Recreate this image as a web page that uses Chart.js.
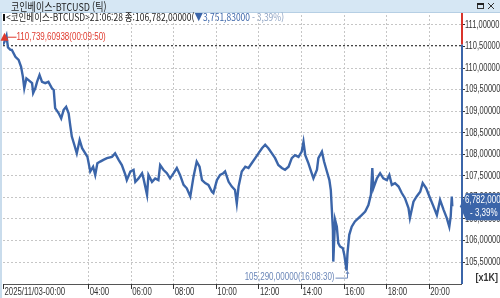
<!DOCTYPE html>
<html lang="ko">
<head>
<meta charset="UTF-8">
<title>코인베이스-BTCUSD (틱)</title>
<style>
  html, body { margin: 0; padding: 0; background: #fff; overflow: hidden; }
  #chart { display: block; }
</style>
</head>
<body>
<canvas id="chart" width="500" height="298"></canvas>
<script src="https://cdn.jsdelivr.net/npm/chart.js"></script>
<script>
// tick prices, time in minutes after 2025/11/03 00:00
var minutes = [
  0, 4, 9.83, 14, 21, 25, 35, 44, 51, 56, 60, 66, 72, 82, 85, 91, 96, 103, 110, 119,
  128, 138, 143, 147, 157, 164, 171, 178, 185, 190, 194, 201, 208, 216, 223, 232, 238, 246, 254, 260,
  266, 274, 283, 293, 307, 316, 326, 335, 345, 349, 359, 368, 373, 382, 392, 396, 406, 410, 420, 429,
  438, 443, 452, 462, 471, 481, 490, 499, 509, 518, 528, 537, 546, 554, 561, 570, 579, 589, 593, 603,
  612, 621, 626, 636, 645, 654, 659, 664, 673, 683, 692, 701, 711, 720, 730, 739, 748, 758, 767, 776,
  786, 795, 805, 814, 823, 833, 842, 847, 852, 861, 870, 875, 885, 889, 899, 905, 913, 920, 924, 927,
  930, 931, 936, 941, 945, 950, 958, 962, 968.5, 971, 976, 983, 992, 1002, 1011, 1021, 1030, 1037, 1041, 1044,
  1054, 1063, 1072, 1082, 1089, 1096, 1105, 1115, 1124, 1133, 1143, 1147, 1157, 1166, 1176, 1183, 1193, 1202, 1212, 1223,
  1232, 1242, 1251, 1258, 1262, 1265, 1266.47
];
var prices = [
  110530, 110600, 110739.6, 110470, 110410, 110410, 110250, 110180, 110020, 109790, 109520, 109750, 109710, 109640, 109410, 109520, 109670, 109830, 109670, 109640,
  109670, 109520, 109480, 109060, 108940, 108820, 109020, 109090, 108940, 108630, 108400, 108210, 108010, 108320, 108130, 108010, 107930, 107590, 107700, 107510,
  107780, 107820, 107860, 107900, 107930, 108010, 107860, 107740, 107510, 107390, 107590, 107630, 107350, 107430, 107550, 107430, 107050, 107510, 107350, 107430,
  107390, 107740, 107630, 107550, 107430, 107550, 107670, 107510, 107280, 107200, 107010, 107470, 107820, 107700, 107390, 107320, 107280, 107120, 107090, 107390,
  107510, 107550, 107590, 107350, 107240, 107160, 106850, 107240, 107590, 107700, 107670, 107780, 107900, 108010, 108130, 108210, 108130, 108010, 107900, 107740,
  107670, 107630, 107700, 107900, 107970, 107930, 108050, 108280, 107970, 107780, 107550, 107430, 107630, 107900, 108050, 107820, 107590, 107390, 107160, 106700,
  106230, 105500, 106470, 106310, 105930, 105850, 105810, 105660, 105290, 105690, 106120, 106310, 106430, 106510, 106580, 106660, 106810, 107050, 107670, 107200,
  107430, 107550, 107430, 107390, 107510, 107280, 107320, 107240, 107090, 106970, 106740, 106510, 106890, 107010, 107120, 107320, 107200, 107010, 106810, 106580,
  106930, 106700, 106510, 106310, 106550, 107010, 106782
];
var xTickMinutes = [0, 240, 360, 480, 600, 720, 840, 960, 1080, 1200];
var xTickLabels = ['2025/11/03-00:00', '04:00', '06:00', '08:00', '10:00', '12:00', '14:00', '16:00', '18:00', '20:00'];
var yTicks = [105500, 106000, 106500, 107000, 107500, 108000, 108500, 109000, 109500, 110000, 110500, 111000];
var prevClose = 110533.83;

var sans = "'Liberation Sans', 'DejaVu Sans', sans-serif";
var kfont = "'Noto Sans CJK KR', 'Noto Sans', sans-serif";
var blue = '#3b65a9';

function yLabel(v) {
  return Math.floor(v / 1000) + ',' + String(v % 1000).padStart(3, '0') + '00';
}

// draw text squeezed horizontally by factor k
function squeeze(c, text, x, y, k) {
  c.save();
  c.translate(x, y);
  c.scale(k, 1);
  c.fillText(text, 0, 0);
  c.restore();
}

var deco = {
  id: 'deco',
  beforeDraw: function (chart) {
    var c = chart.ctx;
    c.save();
    c.fillStyle = '#fff';
    c.fillRect(0, 0, 500, 298);
    // title bar
    c.fillStyle = '#d6e7f4';
    c.fillRect(0, 0, 500, 12);
    c.fillStyle = '#b6cfe4';
    c.fillRect(0, 12, 500, 1);
    c.fillStyle = '#c9dcec';
    c.fillRect(0, 13, 2, 285);
    c.fillStyle = '#222';
    c.font = '11px ' + kfont;
    c.textBaseline = 'middle';
    squeeze(c, '코인베이스-BTCUSD (틱)', 11, 6.5, 0.82);
    // window buttons
    c.strokeStyle = '#333';
    c.lineWidth = 1;
    c.strokeRect(477.5, 3.5, 6, 5);
    c.fillRect(477, 3, 7, 2);
    c.beginPath();
    c.moveTo(488, 3); c.lineTo(494, 9);
    c.moveTo(494, 3); c.lineTo(488, 9);
    c.stroke();
    // info row
    c.fillStyle = '#111';
    c.fillRect(3, 14, 2, 7);
    var parts = [
      ['<코인베이스-BTCUSD>21:06:28 종:106,782,00000(', '#222'],
      ['▼3,751,83000', blue],
      [' - 3,39%)', '#8ea3c3']
    ];
    c.font = '10px ' + kfont;
    var total = 0;
    parts.forEach(function (p) { total += c.measureText(p[0]).width; });
    var sx = Math.min(1, 278 / total);
    c.translate(6, 17.5);
    c.scale(sx, 1);
    var px = 0;
    parts.forEach(function (p) {
      c.fillStyle = p[1];
      c.fillText(p[0], px, 0);
      px += c.measureText(p[0]).width;
    });
    c.restore();
  },
  beforeDatasetsDraw: function (chart) {
    var c = chart.ctx, a = chart.chartArea, xs = chart.scales.x, ys = chart.scales.y;
    c.save();
    // dotted grid on the scale ticks
    c.fillStyle = '#c6c6c6';
    xs.ticks.forEach(function (t) {
      var x = Math.round(xs.getPixelForValue(t.value));
      if (x < a.left + 4) return;
      for (var y = Math.ceil(a.top); y < a.bottom; y += 4) c.fillRect(x, y, 1, 2);
    });
    ys.ticks.forEach(function (t) {
      var y = Math.round(ys.getPixelForValue(t.value));
      for (var x = Math.ceil(a.left); x < a.right; x += 4) c.fillRect(x, y, 2, 1);
    });
    // tick marks
    c.fillStyle = '#333';
    xs.ticks.forEach(function (t) {
      c.fillRect(Math.round(xs.getPixelForValue(t.value)), a.bottom, 1, 5);
    });
    ys.ticks.forEach(function (t) {
      c.fillRect(a.right, Math.round(ys.getPixelForValue(t.value)), 4, 1);
    });
    // previous close
    var yp = Math.round(ys.getPixelForValue(prevClose));
    c.fillStyle = '#444';
    for (var x = Math.ceil(a.left); x < a.right; x += 4) c.fillRect(x, yp, 2, 1);
    c.restore();
  },
  afterDraw: function (chart) {
    var c = chart.ctx, a = chart.chartArea, xs = chart.scales.x, ys = chart.scales.y;
    c.save();
    c.font = '10px ' + sans;

    // axis labels, placed by the scales
    c.fillStyle = '#333';
    c.textBaseline = 'middle';
    ys.ticks.forEach(function (t) {
      squeeze(c, yLabel(t.value), a.right + 4, ys.getPixelForValue(t.value) + 0.5, 0.75);
    });
    c.textBaseline = 'alphabetic';
    xs.ticks.forEach(function (t, i) {
      squeeze(c, xTickLabels[i], xs.getPixelForValue(t.value) + 1.5, 295, 0.78);
    });

    // right axis line: red above previous close, blue below
    var yp = ys.getPixelForValue(prevClose);
    c.fillStyle = '#d9342b';
    c.fillRect(a.right, 13, 2, yp - 13);
    c.fillStyle = blue;
    c.fillRect(a.right, yp, 2, a.bottom - yp);

    // high marker
    var hi = prices.indexOf(Math.max.apply(null, prices));
    var hx = xs.getPixelForValue(minutes[hi]) - 2, hy = ys.getPixelForValue(prices[hi]) + 1;
    c.fillStyle = '#e03a2e';
    c.strokeStyle = '#e03a2e';
    c.beginPath();
    c.moveTo(hx, hy - 4); c.lineTo(hx - 4, hy + 4); c.lineTo(hx + 4, hy + 4);
    c.closePath(); c.fill();
    c.lineWidth = 1;
    c.beginPath();
    c.moveTo(hx + 3, hy + 0.5); c.lineTo(hx + 12, hy + 0.5);
    c.stroke();
    c.textBaseline = 'middle';
    squeeze(c, '110,739,60938(00:09:50)', hx + 12, hy + 1, 0.8);

    // low marker
    var lo = prices.indexOf(Math.min.apply(null, prices));
    var lx = Math.round(xs.getPixelForValue(minutes[lo])) + 0.5, ly = ys.getPixelForValue(prices[lo]);
    c.strokeStyle = '#6a86b8';
    c.fillStyle = '#6a86b8';
    c.beginPath();
    c.moveTo(lx - 12, ly + 7.5); c.lineTo(lx, ly + 7.5); c.lineTo(lx, ly + 2);
    c.stroke();
    c.beginPath();
    c.moveTo(lx, ly); c.lineTo(lx - 2, ly + 3); c.lineTo(lx + 2, ly + 3);
    c.closePath(); c.fill();
    c.textAlign = 'right';
    squeeze(c, '105,290,00000(16:08:30)', lx - 13, ly + 7, 0.8);

    // last price tag
    var ty = ys.getPixelForValue(prices[prices.length - 1]);
    c.fillStyle = blue;
    c.beginPath();
    c.moveTo(a.right - 1, ty);
    c.lineTo(a.right + 5, ty - 13);
    c.lineTo(500, ty - 13);
    c.lineTo(500, ty + 14);
    c.lineTo(a.right + 5, ty + 14);
    c.closePath();
    c.fill();
    c.fillStyle = '#fff';
    c.textAlign = 'left';
    squeeze(c, '6,782,000', a.right + 4, ty - 6, 0.8);
    squeeze(c, '- 3,39%', a.right + 9, ty + 7, 0.8);

    // unit
    c.fillStyle = '#333';
    c.font = 'bold 10px ' + sans;
    c.textAlign = 'right';
    squeeze(c, '[x1K]', 498, a.bottom - 6, 0.9);
    c.restore();
  }
};

var points = minutes.map(function (m, i) { return { x: m, y: prices[i] }; });

new Chart(document.getElementById('chart'), {
  type: 'line',
  data: {
    datasets: [{
      label: 'BTCUSD',
      data: points,
      borderColor: blue,
      borderWidth: 2.4,
      pointRadius: 0,
      tension: 0
    }]
  },
  options: {
    responsive: false,
    animation: false,
    layout: { padding: { top: 15, left: 3, right: 0, bottom: 0 } },
    plugins: { legend: { display: false }, tooltip: { enabled: false } },
    scales: {
      x: {
        type: 'linear',
        min: 0,
        max: 1291,
        afterBuildTicks: function (s) { s.ticks = xTickMinutes.map(function (v) { return { value: v }; }); },
        afterFit: function (s) { s.height = 14; },
        ticks: { display: false },
        grid: { display: false },
        border: { display: true, color: '#555', width: 1 }
      },
      y: {
        position: 'right',
        min: 104980,
        max: 111220,
        afterBuildTicks: function (s) { s.ticks = yTicks.map(function (v) { return { value: v }; }); },
        afterFit: function (s) { s.width = 39; },
        ticks: { display: false },
        grid: { display: false },
        border: { display: false }
      }
    }
  },
  plugins: [deco]
});
</script>
</body>
</html>
